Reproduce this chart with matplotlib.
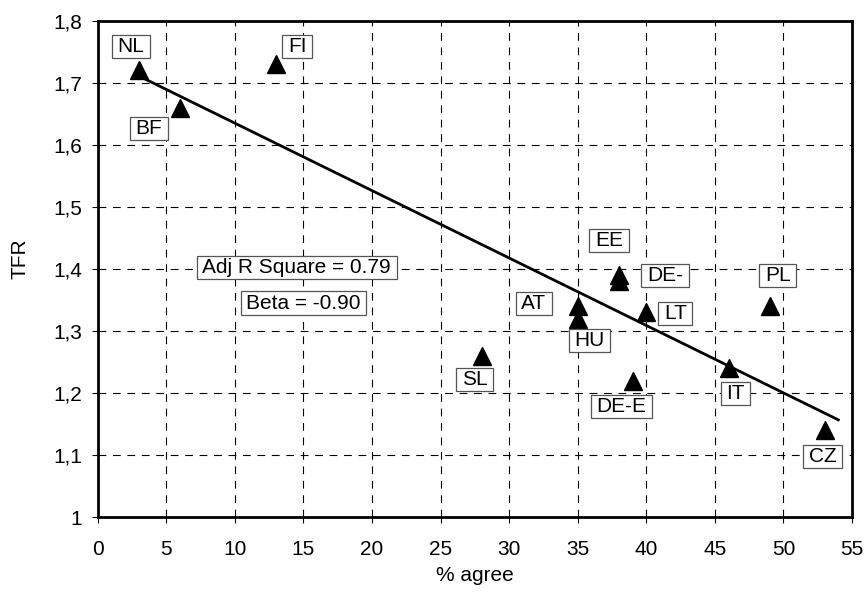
import matplotlib
matplotlib.use('Agg')
import matplotlib.pyplot as plt
from matplotlib.path import Path
from matplotlib.ticker import FuncFormatter, MultipleLocator
import numpy as np

# values
countries = ["NL", "BF", "FI", "SL", "AT", "HU", "EE", "DE-", "LT", "DE-E", "IT", "PL", "CZ"]
agree = [3, 6, 13, 28, 35, 35, 38, 38, 40, 39, 46, 49, 53]
tfr = [1.72, 1.66, 1.73, 1.26, 1.34, 1.32, 1.39, 1.38, 1.33, 1.22, 1.24, 1.34, 1.14]
stats_text = ["Adj R Square = 0.79", "Beta = -0.90"]

# label placement relative to each marker, in pixels (x right, y up)
label_offsets = {"NL": (-8, 24), "BF": (-31, -21), "FI": (21, 18), "SL": (-7, -24),
                 "AT": (-44, 3), "HU": (12, -22), "EE": (-10, 35), "DE-": (46, 6),
                 "LT": (29, -1), "DE-E": (-11, -26), "IT": (7, -25), "PL": (8, 31),
                 "CZ": (-2, -26)}

plt.rcParams['font.family'] = ['Liberation Sans', 'DejaVu Sans']
plt.rcParams['font.size'] = 15


def wide_box(x0, y0, width, height, mutation_size):
    # plain rectangle, more padding left/right than top/bottom (like the Excel text boxes)
    px = 0.27 * mutation_size
    py = 0.1 * mutation_size
    x0, y0 = x0 - px, y0 - py
    x1, y1 = x0 + width + 2 * px, y0 + height + 2 * py
    return Path([(x0, y0), (x1, y0), (x1, y1), (x0, y1), (x0, y0)], closed=True)


fig = plt.figure(figsize=(8.65, 5.95), dpi=100)
ax = fig.add_axes([0.113, 0.131, 0.872, 0.834])

# trend line (least squares), drawn from first point to one unit past the last
slope, intercept = np.polyfit(agree, tfr, 1)
xs = np.array([min(agree), max(agree) + 1])
ax.plot(xs, slope * xs + intercept, color='black', lw=2.0, zorder=3)

ax.plot(agree, tfr, linestyle='none', marker='^', markersize=13, color='black', zorder=4)

box = dict(boxstyle=wide_box, facecolor='white', edgecolor='#555555', linewidth=0.9)
for name, x, y in zip(countries, agree, tfr):
    ax.annotate(name, (x, y), xytext=label_offsets[name], textcoords='offset pixels',
                ha='center', va='center', bbox=box, zorder=5)

ax.text(14.5, 1.402, stats_text[0], ha='center', va='center', bbox=box, zorder=5)
ax.text(15.0, 1.345, stats_text[1], ha='center', va='center', bbox=box, zorder=5)

ax.set_xlim(0, 55)
ax.set_ylim(1, 1.8)
ax.xaxis.set_major_locator(MultipleLocator(5))
ax.yaxis.set_major_locator(MultipleLocator(0.1))
ax.yaxis.set_major_formatter(FuncFormatter(
    lambda v, p: '1' if abs(v - 1) < 1e-9 else f'{v:.1f}'.replace('.', ',')))

ax.grid(True, color='black', linestyle=(0, (7, 6)), linewidth=0.8)
ax.set_axisbelow(True)
for s in ax.spines.values():
    s.set_linewidth(2.0)
ax.tick_params(direction='out', length=4.5, width=0.8)
ax.tick_params(axis='y', pad=7)
ax.tick_params(axis='x', pad=12)

ax.set_xlabel('% agree', labelpad=5)
ax.set_ylabel('TFR', labelpad=14)
ax.yaxis.set_label_coords(-0.09, 0.52)

fig.savefig('out.png', dpi=100)
